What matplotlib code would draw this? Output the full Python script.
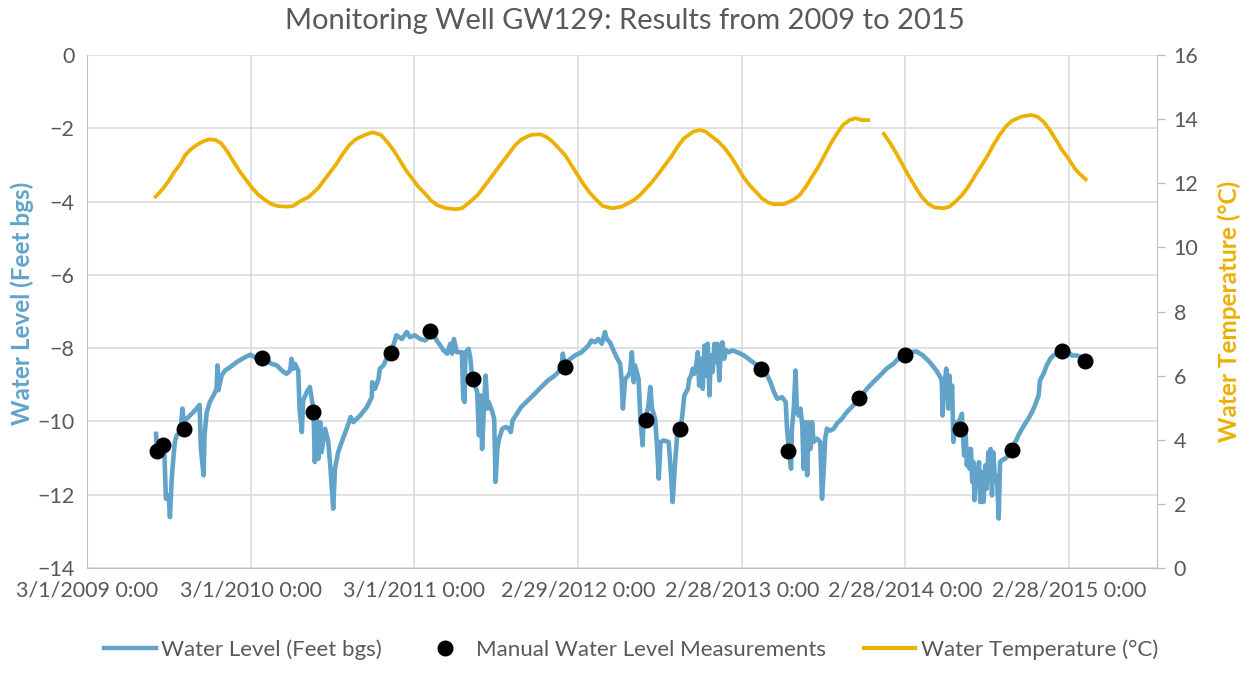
import numpy as np
import matplotlib
matplotlib.use("Agg")
import matplotlib.pyplot as plt
import matplotlib.dates as mdates
from matplotlib.ticker import FixedLocator, FuncFormatter, MultipleLocator
from matplotlib.lines import Line2D

plt.rcParams["font.family"] = ["Lato", "DejaVu Sans"]

# Elapsed days since 1 March 2009 for every record
EPOCH = np.datetime64("2009-03-01")

# Transducer water level (feet below ground surface, negative down)
level_days = [
    154, 156, 163, 172, 176, 182, 185, 189, 193, 196, 200, 208, 213, 216, 222, 237,
    251, 254, 260, 262, 267, 274, 282, 289, 291, 293, 300, 308, 319, 334, 349, 364,
    375, 390, 401, 412, 423, 438, 445, 453, 456, 460, 464, 471, 474, 479, 482, 490,
    497, 501, 505, 508, 512, 516, 520, 523, 531, 538, 543, 549, 553, 560, 568, 579,
    588, 594, 609, 624, 635, 636, 642, 650, 653, 661, 668, 676, 683, 690, 702, 713,
    720, 731, 743, 754, 765, 773, 780, 788, 795, 803, 810, 814, 818, 825, 836, 839,
    842, 844, 851, 855, 859, 863, 870, 874, 878, 881, 885, 889, 893, 896, 904, 908,
    911, 915, 919, 926, 934, 941, 945, 949, 956, 968, 983, 998, 1013, 1028, 1043, 1058,
    1061, 1065, 1073, 1088, 1103, 1118, 1125, 1133, 1140, 1148, 1155, 1159, 1166, 1174, 1181, 1189,
    1192, 1195, 1200, 1207, 1211, 1215, 1219, 1222, 1230, 1234, 1239, 1241, 1249, 1252, 1256, 1260,
    1267, 1271, 1275, 1279, 1286, 1297, 1301, 1306, 1311, 1316, 1324, 1329, 1332, 1336, 1340, 1343,
    1347, 1351, 1354, 1358, 1362, 1365, 1369, 1373, 1377, 1380, 1384, 1388, 1391, 1395, 1399, 1402,
    1406, 1410, 1413, 1417, 1421, 1425, 1432, 1439, 1450, 1465, 1480, 1495, 1506, 1517, 1524, 1532,
    1539, 1550, 1558, 1561, 1565, 1570, 1572, 1576, 1580, 1583, 1587, 1591, 1595, 1598, 1602, 1606,
    1609, 1613, 1617, 1620, 1628, 1635, 1639, 1643, 1646, 1650, 1657, 1665, 1672, 1683, 1694, 1709,
    1724, 1739, 1753, 1768, 1783, 1798, 1809, 1816, 1825, 1835, 1850, 1864, 1879, 1894, 1901, 1906,
    1908, 1911, 1916, 1919, 1921, 1923, 1926, 1929, 1932, 1936, 1940, 1943, 1947, 1951, 1953, 1956,
    1959, 1962, 1965, 1968, 1971, 1974, 1977, 1979, 1983, 1986, 1989, 1992, 1995, 1999, 2003, 2006,
    2010, 2012, 2015, 2018, 2021, 2025, 2029, 2033, 2036, 2040, 2047, 2055, 2062, 2070, 2077, 2085,
    2092, 2099, 2107, 2114, 2122, 2125, 2133, 2140, 2148, 2155, 2163, 2174, 2185, 2196, 2207, 2218,
    2222,
]
level_ft = [
    -10.34, -10.84, -10.75, -10.65, -12.11, -12.02, -12.61, -11.56, -10.93, -10.56, -10.38, -10.29, -9.65, -10.06, -9.93, -9.75,
    -9.55, -10.75, -11.47, -10.38, -9.75, -9.47, -9.29, -9.11, -8.47, -9.15, -8.75, -8.61, -8.52, -8.38, -8.27, -8.18,
    -8.25, -8.27, -8.34, -8.43, -8.47, -8.65, -8.70, -8.61, -8.29, -8.56, -8.43, -8.61, -9.65, -10.29, -9.43, -9.20,
    -9.06, -9.38, -9.65, -11.11, -9.93, -11.02, -10.02, -10.84, -10.20, -10.56, -11.29, -12.38, -11.29, -10.84, -10.56, -10.20,
    -9.88, -10.02, -9.84, -9.61, -9.34, -8.93, -9.11, -8.84, -8.56, -8.47, -8.29, -8.15, -7.93, -7.65, -7.75, -7.56,
    -7.70, -7.65, -7.75, -7.79, -7.65, -7.65, -7.79, -7.93, -8.06, -8.15, -7.88, -8.15, -7.75, -8.11, -8.11, -9.38,
    -9.47, -8.11, -8.02, -8.29, -8.84, -8.93, -9.20, -10.38, -9.29, -10.75, -9.65, -8.75, -9.65, -9.47, -9.75, -9.93,
    -11.65, -10.75, -10.47, -10.20, -10.15, -10.20, -10.29, -9.97, -9.84, -9.61, -9.43, -9.25, -9.06, -8.88, -8.75, -8.56,
    -8.15, -8.47, -8.34, -8.20, -8.11, -7.93, -7.79, -7.84, -7.75, -7.88, -7.56, -7.75, -7.84, -8.06, -8.25, -8.43,
    -8.84, -9.65, -8.84, -8.75, -8.65, -8.11, -8.93, -8.47, -8.84, -9.93, -10.65, -9.93, -9.75, -9.56, -9.06, -9.65,
    -9.93, -10.65, -11.56, -10.56, -10.52, -10.56, -11.20, -12.20, -11.20, -10.38, -10.20, -9.65, -9.29, -9.20, -9.11, -8.84,
    -8.75, -8.56, -8.70, -8.52, -8.11, -9.02, -8.29, -9.11, -7.93, -8.75, -7.88, -9.29, -8.20, -8.65, -7.88, -8.38,
    -7.88, -8.88, -8.11, -7.84, -8.29, -8.06, -8.11, -8.06, -8.11, -8.20, -8.34, -8.47, -8.58, -8.75, -8.93, -9.20,
    -9.38, -9.34, -9.47, -10.20, -10.75, -11.29, -10.20, -9.65, -8.61, -9.75, -9.84, -9.65, -10.11, -11.29, -10.02, -11.47,
    -10.02, -10.75, -10.02, -10.56, -10.47, -10.56, -12.11, -11.29, -10.47, -10.20, -10.25, -10.20, -10.06, -9.93, -9.75, -9.56,
    -9.34, -9.11, -8.93, -8.75, -8.56, -8.43, -8.29, -8.25, -8.20, -8.11, -8.09, -8.20, -8.38, -8.61, -8.75, -8.88,
    -9.84, -9.11, -8.56, -9.02, -9.65, -8.75, -9.56, -9.02, -10.56, -10.02, -10.20, -10.02, -9.93, -9.79, -10.29, -10.93,
    -10.20, -11.20, -10.75, -11.29, -10.75, -11.65, -11.11, -12.15, -11.29, -11.75, -11.11, -12.20, -11.38, -12.20, -11.20, -11.84,
    -10.84, -11.56, -10.75, -12.02, -10.84, -11.65, -11.47, -12.65, -11.11, -11.06, -11.02, -10.93, -10.79, -10.56, -10.38, -10.20,
    -10.06, -9.93, -9.75, -9.56, -9.29, -8.88, -8.70, -8.47, -8.29, -8.20, -8.15, -8.09, -8.06, -8.20, -8.20, -8.25,
    -8.29,
]

# Manual (tape) water level measurements
manual_days = [156, 170, 216, 390, 505, 677, 765, 861, 1067, 1247,
               1323, 1504, 1564, 1722, 1825, 1946, 2062, 2174, 2226]
manual_ft = [-10.82, -10.65, -10.20, -8.27, -9.75, -8.13, -7.52, -8.85, -8.52, -9.95,
             -10.20, -8.58, -10.82, -9.35, -8.20, -10.20, -10.79, -8.09, -8.34]

# Water temperature (deg C); NaN marks the gap in the logger record
temp_days = [
    153, 167, 181, 195, 209, 219, 230, 244, 258, 272, 286, 299, 313, 327, 341, 355,
    369, 383, 397, 411, 425, 446, 460, 474, 495, 515, 529, 543, 557, 571, 585, 599,
    620, 637, 655, 669, 683, 697, 711, 725, 739, 753, 766, 780, 801, 822, 836, 850,
    871, 885, 899, 913, 927, 941, 955, 969, 990, 1010, 1024, 1038, 1052, 1066, 1080, 1094,
    1108, 1122, 1136, 1150, 1171, 1192, 1206, 1220, 1233, 1247, 1261, 1275, 1289, 1303, 1317, 1331,
    1352, 1366, 1380, 1394, 1408, 1422, 1436, 1450, 1463, 1477, 1491, 1505, 1519, 1533, 1554, 1575,
    1589, 1603, 1617, 1631, 1645, 1659, 1673, 1686, 1700, 1714, 1728, 1742, 1760, 1777, 1791, 1805,
    1819, 1833, 1847, 1861, 1875, 1889, 1910, 1923, 1937, 1951, 1965, 1979, 1993, 2007, 2021, 2035,
    2049, 2063, 2084, 2105, 2119, 2133, 2147, 2161, 2174, 2188, 2202, 2216, 2227,
]
temp_c = [
    11.58, 11.79, 12.05, 12.36, 12.62, 12.88, 13.04, 13.19, 13.30, 13.37, 13.35, 13.25, 12.99, 12.67, 12.36, 12.10,
    11.84, 11.63, 11.48, 11.35, 11.29, 11.27, 11.29, 11.43, 11.58, 11.84, 12.10, 12.36, 12.62, 12.93, 13.19, 13.37,
    13.51, 13.59, 13.51, 13.30, 13.04, 12.73, 12.41, 12.15, 11.89, 11.69, 11.48, 11.32, 11.22, 11.19, 11.22, 11.37,
    11.63, 11.89, 12.15, 12.41, 12.67, 12.93, 13.19, 13.37, 13.51, 13.53, 13.45, 13.30, 13.09, 12.88, 12.57, 12.26,
    11.95, 11.69, 11.48, 11.29, 11.22, 11.27, 11.37, 11.48, 11.63, 11.84, 12.05, 12.31, 12.57, 12.83, 13.14, 13.40,
    13.61, 13.66, 13.61, 13.45, 13.30, 13.09, 12.83, 12.52, 12.21, 11.95, 11.74, 11.53, 11.40, 11.34, 11.35, 11.48,
    11.63, 11.89, 12.21, 12.52, 12.88, 13.25, 13.56, 13.82, 13.97, 14.03, 13.97, 13.97, np.nan, 13.54, 13.25, 12.93,
    12.57, 12.21, 11.89, 11.58, 11.37, 11.25, 11.22, 11.27, 11.43, 11.63, 11.89, 12.21, 12.52, 12.83, 13.19, 13.51,
    13.77, 13.95, 14.08, 14.13, 14.08, 13.92, 13.66, 13.35, 13.04, 12.78, 12.47, 12.26, 12.12,
]

# Axis settings
x_tick_days = [0, 365, 730, 1095, 1460, 1825, 2190]
x_end_day = 2386
level_range = (-14, 0)
temp_range = (0, 16)

BLUE = "#62A3CA"
GOLD = "#EBB000"
GRAY_TXT = "#595959"
GRID = "#D9D9D9"
AXIS = "#BFBFBF"


def to_dates(days):
    return EPOCH + np.array(days, dtype="timedelta64[D]")


def fmt_date(x, pos=None):
    d = mdates.num2date(x)
    return f"{d.month}/{d.day}/{d.year} {d.hour}:{d.minute:02d}"


fig = plt.figure(figsize=(12.5, 6.85), dpi=100)
ax = fig.add_axes([0.0696, 0.1708, 0.8560, 0.7489])
ax2 = ax.twinx()

ax.plot(to_dates(level_days), level_ft, color=BLUE, lw=3.3, solid_joinstyle="round", zorder=3)
ax.plot(to_dates(manual_days), manual_ft, "o", color="black", ms=10.5, zorder=4)
ax2.plot(to_dates(temp_days), temp_c, color=GOLD, lw=2.7, zorder=3)

ax.set_xlim(to_dates([0])[0], to_dates([x_end_day])[0])
ax.xaxis.set_major_locator(FixedLocator(mdates.date2num(to_dates(x_tick_days))))
ax.xaxis.set_major_formatter(FuncFormatter(fmt_date))

ax.set_ylim(*level_range)
ax.yaxis.set_major_locator(MultipleLocator(2))
ax2.set_ylim(*temp_range)
ax2.yaxis.set_major_locator(MultipleLocator(2))

ax.grid(True, color=GRID, lw=1.1)
ax.set_axisbelow(True)

for a in (ax, ax2):
    for s in a.spines.values():
        s.set_visible(False)
ax.spines["left"].set_visible(True)
ax.spines["left"].set_color(AXIS)
ax.spines["bottom"].set_visible(True)
ax.spines["bottom"].set_color(AXIS)
ax2.spines["right"].set_visible(True)
ax2.spines["right"].set_color(AXIS)

ax.tick_params(axis="both", length=0, labelsize=15.5, labelcolor=GRAY_TXT, pad=9)
ax2.tick_params(axis="y", length=6, width=1, color=AXIS, labelsize=15.5,
                labelcolor=GRAY_TXT, pad=6)

ax.set_ylabel("Water Level (Feet bgs)", color=BLUE, fontsize=17.5, fontweight="bold")
ax2.set_ylabel("Water Temperature (°C)", color=GOLD, fontsize=17.5, fontweight="bold")
ax.yaxis.set_label_coords(-0.0607, 0.515)
ax2.yaxis.set_label_coords(1.0675, 0.5)
ax.yaxis.label.set_verticalalignment("center")
ax2.yaxis.label.set_verticalalignment("center")

fig.suptitle("Monitoring Well GW129: Results from 2009 to 2015", x=0.5, y=0.988,
             fontsize=21, color=GRAY_TXT)

handles = [
    Line2D([], [], color=BLUE, lw=3.2),
    Line2D([], [], ls="none", marker="o", color="black", ms=10.5),
    Line2D([], [], color=GOLD, lw=3.0),
]
labels = ["Water Level (Feet bgs)", "Manual Water Level Measurements", "Water Temperature (°C)"]
fig.legend(handles, labels, loc="center", bbox_to_anchor=(0.505, 0.052), ncol=3,
           frameon=False, fontsize=16, labelcolor=GRAY_TXT, handlelength=2.3,
           handletextpad=0.25, columnspacing=1.7)

fig.savefig("out.png", dpi=100)
